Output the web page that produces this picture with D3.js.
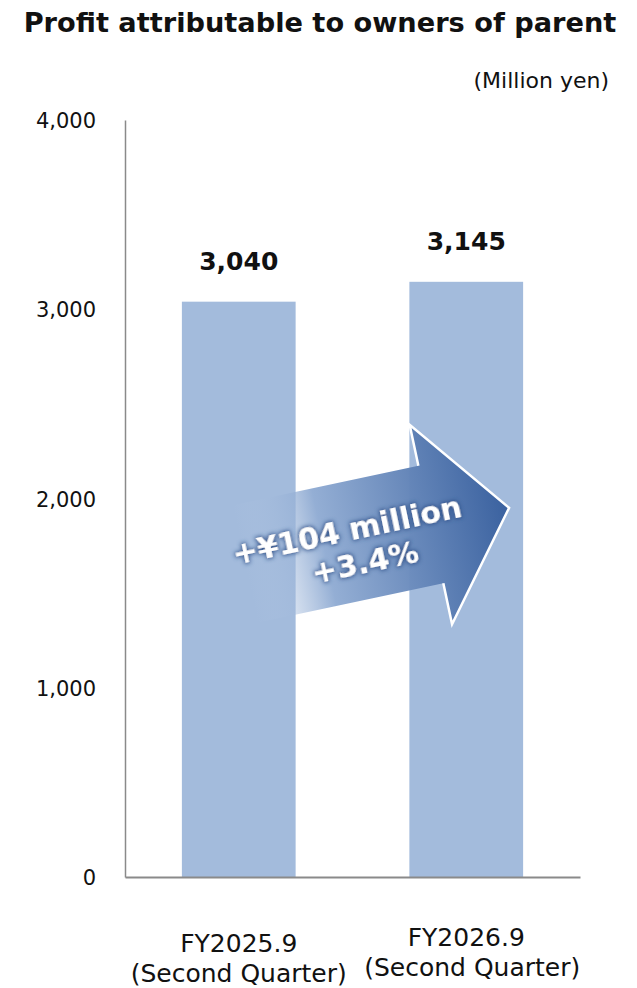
<!DOCTYPE html>
<html>
<head>
<meta charset="utf-8">
<script src="https://cdn.jsdelivr.net/npm/d3@7"></script>
<style>
  body { margin: 0; background: #fff; }
  text { font-family: "DejaVu Sans", Verdana, sans-serif; fill: #111; }
</style>
</head>
<body>
<div id="chart"></div>
<script>
// chart data
const categories = ["FY2025.9", "FY2026.9"];
const subLabels = ["(Second Quarter)", "(Second Quarter)"];
const values = [3040, 3145];
const yTicks = [0, 1000, 2000, 3000, 4000];
const changeLabels = ["+¥104 million", "+3.4%"];

const width = 637, height = 988;
const margin = { top: 120, left: 125, bottom: 111, right: 57 };

const svg = d3.select("#chart").append("svg")
  .attr("width", width)
  .attr("height", height);

const defs = svg.append("defs");

const grad = defs.append("linearGradient")
  .attr("id", "arrowGrad")
  .attr("gradientUnits", "userSpaceOnUse")
  .attr("x1", 0).attr("y1", 0).attr("x2", 270).attr("y2", 0);
grad.append("stop").attr("offset", "0").attr("stop-color", "#b4c8e4").attr("stop-opacity", 0);
grad.append("stop").attr("offset", "0.3").attr("stop-color", "#8eaad2").attr("stop-opacity", 0.95);
grad.append("stop").attr("offset", "1").attr("stop-color", "#3a619f");

const glow = defs.append("filter").attr("id", "glow")
  .attr("x", "-20%").attr("y", "-40%").attr("width", "140%").attr("height", "180%");
glow.append("feMorphology").attr("in", "SourceAlpha").attr("operator", "dilate").attr("radius", 1.2).attr("result", "thick");
glow.append("feGaussianBlur").attr("in", "thick").attr("stdDeviation", 2.2).attr("result", "blur");
glow.append("feFlood").attr("flood-color", "#2a4d86").attr("flood-opacity", 0.85);
glow.append("feComposite").attr("in2", "blur").attr("operator", "in").attr("result", "shadow");
const merge = glow.append("feMerge");
merge.append("feMergeNode").attr("in", "shadow");
merge.append("feMergeNode").attr("in", "SourceGraphic");

// title, fit to width
const title = svg.append("text")
  .attr("x", 320).attr("y", 32)
  .attr("text-anchor", "middle")
  .style("font-weight", "bold")
  .style("font-size", "27px")
  .text("Profit attributable to owners of parent");
const tl = title.node().getComputedTextLength();
title.style("font-size", (27 * 593 / tl) + "px");

svg.append("text")
  .attr("x", 609).attr("y", 88)
  .attr("text-anchor", "end")
  .style("font-size", "22px")
  .text("(Million yen)");

const x = d3.scaleBand()
  .domain(categories)
  .range([margin.left, width - margin.right])
  .paddingInner(0.5)
  .paddingOuter(0.25);

const y = d3.scaleLinear()
  .domain([0, 4000])
  .range([height - margin.bottom, margin.top]);

// bars
svg.selectAll("rect.bar")
  .data(values)
  .enter().append("rect")
  .attr("class", "bar")
  .attr("x", (d, i) => x(categories[i]))
  .attr("y", d => y(d))
  .attr("width", x.bandwidth())
  .attr("height", d => y(0) - y(d))
  .style("fill", "#a3bbdc");

// value labels
svg.selectAll("text.val")
  .data(values)
  .enter().append("text")
  .attr("class", "val")
  .attr("x", (d, i) => x(categories[i]) + x.bandwidth() / 2)
  .attr("y", d => y(d) - 32)
  .attr("text-anchor", "middle")
  .style("font-weight", "bold")
  .style("font-size", "25px")
  .text(d => d3.format(",")(d));

// y axis
const yAxis = svg.append("g")
  .attr("transform", `translate(${margin.left},0)`)
  .call(d3.axisLeft(y).tickValues(yTicks).tickSize(0).tickPadding(29).tickFormat(d3.format(",")));
yAxis.select(".domain").attr("stroke", "#8a8a8a").attr("stroke-width", 1.5);
yAxis.selectAll(".tick text")
  .style("font-size", "21px")
  .style("font-family", "DejaVu Sans, sans-serif")
  .attr("fill", "#111")
  .attr("dy", "0.36em");

// x axis
const xAxis = svg.append("g")
  .attr("transform", `translate(0,${y(0)})`)
  .call(d3.axisBottom(x).tickSize(0).tickFormat(""));
xAxis.select(".domain").attr("stroke", "#8a8a8a").attr("stroke-width", 2);

const catLabel = xAxis.selectAll(".tick").append("text")
  .attr("text-anchor", "middle")
  .style("font-size", "25px")
  .style("font-family", "DejaVu Sans, sans-serif")
  .attr("fill", "#111")
  .attr("transform", (d, i) => `translate(0,${i === 1 ? -6 : 0})`);
catLabel.append("tspan").attr("x", 0).attr("y", 75).text(d => d);
catLabel.append("tspan").attr("x", (d, i) => i === 1 ? 6 : 0).attr("y", 105)
  .text((d, i) => subLabels[i]);

// change arrow
const arrow = svg.append("g")
  .attr("transform", "translate(245,564) rotate(-12)");
const shaftLen = 190, headLen = 80, shaftHalf = 60, headHalf = 102;
const arrowPts = [
  [0, -shaftHalf], [shaftLen, -shaftHalf], [shaftLen, -headHalf],
  [shaftLen + headLen, 0],
  [shaftLen, headHalf], [shaftLen, shaftHalf], [0, shaftHalf]
];
arrow.append("path")
  .attr("d", d3.line()(arrowPts))
  .attr("fill", "url(#arrowGrad)");
arrow.append("path")
  .attr("d", d3.line()(arrowPts.slice(1, 6)))
  .attr("fill", "none")
  .attr("stroke", "#fff")
  .attr("stroke-width", 2.5)
  .attr("stroke-linejoin", "miter");

const note = svg.append("g")
  .attr("transform", "translate(347,530) rotate(-12)")
  .attr("filter", "url(#glow)");
note.selectAll("text")
  .data(changeLabels)
  .enter().append("text")
  .attr("x", (d, i) => i * 11)
  .attr("y", (d, i) => 11 + i * 35)
  .attr("text-anchor", "middle")
  .style("font-weight", "bold")
  .style("font-size", "30px")
  .style("fill", "#fff")
  .text(d => d);
</script>
</body>
</html>
